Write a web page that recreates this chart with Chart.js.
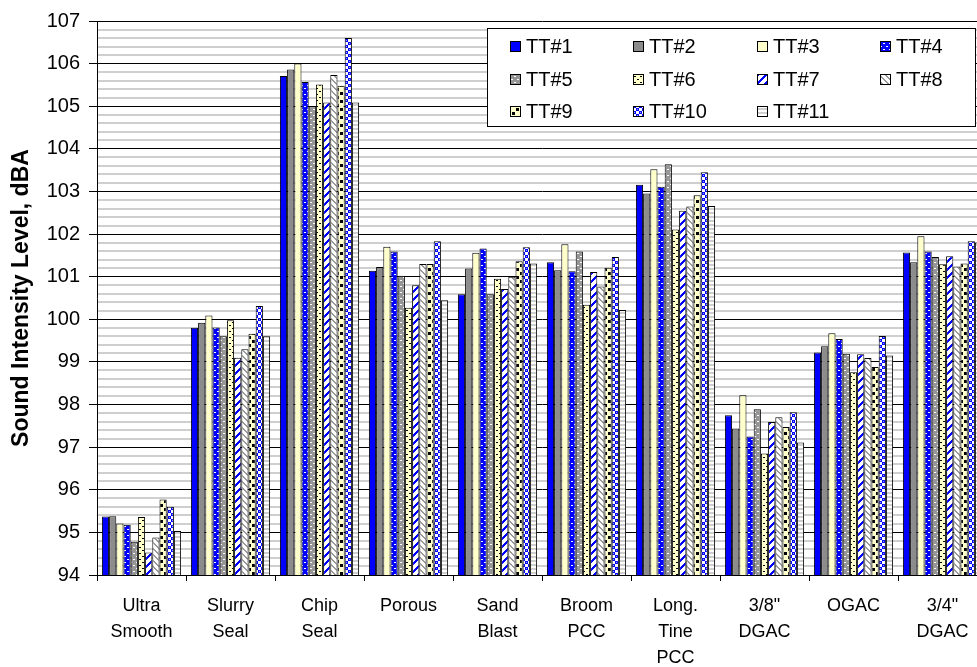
<!DOCTYPE html>
<html>
<head>
<meta charset="utf-8">
<title>Sound Intensity Level by Surface</title>
<script src="https://cdn.jsdelivr.net/npm/chart.js@4.4.0/dist/chart.umd.min.js"></script>
<style>
  html, body { margin: 0; padding: 0; background: #fff; overflow: hidden; }
  #wrap { width: 1000px; height: 667px; }
</style>
</head>
<body>
<div id="wrap"><canvas id="chart"></canvas></div>
<script>
// Surfaces (x categories)
var surfaces = [
    ['Ultra', 'Smooth'], ['Slurry', 'Seal'], ['Chip', 'Seal'], 'Porous', ['Sand', 'Blast'],
    ['Broom', 'PCC'], ['Long.', 'Tine', 'PCC'], ['3/8"', 'DGAC'], 'OGAC', ['3/4"', 'DGAC']
];

// one array per test tire, values in dBA
var tt1  = [95.37, 99.80, 105.71, 101.14, 100.59, 101.34, 103.16, 97.75, 99.22, 101.57];
var tt2  = [95.38, 99.92, 105.86, 101.23, 101.19, 101.15, 102.95, 97.44, 99.37, 101.34];
var tt3  = [95.21, 100.09, 106.00, 101.70, 101.56, 101.76, 103.52, 98.22, 99.67, 101.95];
var tt4  = [95.18, 99.81, 105.57, 101.59, 101.66, 101.13, 103.11, 97.25, 99.54, 101.59];
var tt5  = [94.78, 99.60, 105.00, 101.02, 100.59, 101.59, 103.64, 97.89, 99.19, 101.46];
var tt6  = [95.36, 99.98, 105.51, 100.27, 100.95, 100.34, 102.11, 96.85, 98.76, 101.29];
var tt7  = [94.53, 99.10, 105.09, 100.80, 100.71, 101.11, 102.55, 97.59, 99.18, 101.48];
var tt8  = [94.88, 99.30, 105.73, 101.30, 101.00, 100.77, 102.65, 97.70, 99.09, 101.24];
var tt9  = [95.77, 99.66, 105.48, 101.30, 101.36, 101.21, 102.91, 97.47, 98.88, 101.31];
var tt10 = [95.60, 100.31, 106.60, 101.83, 101.69, 101.46, 103.45, 97.82, 99.61, 101.83];
var tt11 = [95.03, 99.60, 105.09, 100.45, 101.31, 100.22, 102.66, 97.11, 99.15, 101.80];

var seriesNames = ['TT#1', 'TT#2', 'TT#3', 'TT#4', 'TT#5', 'TT#6', 'TT#7', 'TT#8', 'TT#9', 'TT#10', 'TT#11'];
var seriesData = [tt1, tt2, tt3, tt4, tt5, tt6, tt7, tt8, tt9, tt10, tt11];

var yMin = 94, yMax = 107;

// --- fill patterns -------------------------------------------------
function makePattern(w, h, draw) {
    var c = document.createElement('canvas');
    c.width = w; c.height = h;
    var g = c.getContext('2d');
    draw(g, w, h);
    return g.createPattern(c, 'repeat');
}

var BLUE = '#0000ff', GREY = '#969696', CREAM = '#ffffcc';

var fills = [
    BLUE,
    '#8c8c8c',
    CREAM,
    // blue, white dots
    makePattern(6, 6, function(g) {
        g.fillStyle = BLUE; g.fillRect(0, 0, 6, 6);
        g.fillStyle = '#fff'; g.fillRect(1, 1, 2, 1); g.fillRect(4, 4, 2, 1);
    }),
    // grey, white dots
    makePattern(6, 6, function(g) {
        g.fillStyle = GREY; g.fillRect(0, 0, 6, 6);
        g.fillStyle = '#fff'; g.fillRect(1, 1, 2, 1); g.fillRect(4, 4, 2, 1);
    }),
    // cream, black dashes
    makePattern(6, 6, function(g) {
        g.fillStyle = CREAM; g.fillRect(0, 0, 6, 6);
        g.fillStyle = '#000'; g.fillRect(1, 1, 2, 1); g.fillRect(4, 4, 2, 1);
    }),
    // white, wide blue upward diagonal
    makePattern(8, 8, function(g) {
        g.fillStyle = '#fff'; g.fillRect(0, 0, 8, 8);
        g.fillStyle = BLUE;
        for (var i = 0; i < 8; i++) {
            for (var k = 0; k < 3; k++) g.fillRect((7 - i + k) % 8, i, 1, 1);
        }
    }),
    // white, grey downward diagonal
    makePattern(6, 6, function(g) {
        g.fillStyle = '#fff'; g.fillRect(0, 0, 6, 6);
        g.fillStyle = '#999';
        for (var i = 0; i < 6; i++) {
            for (var k = 0; k < 2; k++) g.fillRect((i + k) % 6, i, 1, 1);
        }
    }),
    // cream, big black blocks
    makePattern(8, 8, function(g) {
        g.fillStyle = CREAM; g.fillRect(0, 0, 8, 8);
        g.fillStyle = '#000'; g.fillRect(0, 0, 3, 3); g.fillRect(4, 4, 3, 3);
    }),
    // white with blue checks
    makePattern(6, 6, function(g) {
        g.fillStyle = '#fff'; g.fillRect(0, 0, 6, 6);
        g.fillStyle = BLUE; g.fillRect(0, 0, 3, 3); g.fillRect(3, 3, 3, 3);
        g.fillStyle = '#9a9aff'; g.fillRect(1, 1, 1, 1); g.fillRect(4, 4, 1, 1);
    }),
    // white, grey horizontal bands
    makePattern(4, 4, function(g) {
        g.fillStyle = '#fff'; g.fillRect(0, 0, 4, 4);
        g.fillStyle = '#cfcfcf'; g.fillRect(0, 0, 4, 2);
    })
];

var datasets = seriesData.map(function(d, i) {
    return {
        label: seriesNames[i],
        data: d,
        backgroundColor: fills[i],
        borderColor: '#000',
        borderWidth: 1,
        borderSkipped: false
    };
});

function isMajor(v) { return Math.abs(v - Math.round(v)) < 1e-6; }

// legend box drawn over the plot, upper right
var boxLegend = {
    id: 'boxLegend',
    afterDraw: function(chart) {
        var ctx = chart.ctx;
        var x0 = 487, y0 = 28, w = 489, h = 99;
        ctx.save();
        ctx.fillStyle = '#fff';
        ctx.fillRect(x0, y0, w, h);
        ctx.strokeStyle = '#000';
        ctx.lineWidth = 1;
        ctx.strokeRect(x0 + 0.5, y0 + 0.5, w - 1, h - 1);
        ctx.font = '20px "Liberation Sans", Arial, sans-serif';
        ctx.textBaseline = 'middle';
        ctx.textAlign = 'left';
        var colX = [510, 633, 757, 880], rowY = [46, 79, 111];
        chart.data.datasets.forEach(function(ds, i) {
            var cx = colX[i % 4], cy = rowY[Math.floor(i / 4)];
            ctx.fillStyle = ds.backgroundColor;
            ctx.fillRect(cx, cy - 5, 11, 11);
            ctx.strokeStyle = '#000';
            ctx.strokeRect(cx + 0.5, cy - 4.5, 10, 10);
            ctx.fillStyle = '#000';
            ctx.fillText(ds.label, cx + 16, cy + 1);
        });
        ctx.restore();
    }
};

new Chart(document.getElementById('chart'), {
    type: 'bar',
    data: { labels: surfaces, datasets: datasets },
    options: {
        responsive: true,
        maintainAspectRatio: false,
        animation: false,
        layout: { padding: { top: 20, right: 13, left: 0, bottom: 0 } },
        datasets: { bar: { categoryPercentage: 0.89, barPercentage: 1.0 } },
        plugins: { legend: { display: false }, tooltip: { enabled: false } },
        scales: {
            x: {
                afterFit: function(s) { s.height = 92; },
                grid: { drawOnChartArea: false, offset: true, color: '#000', tickLength: 6 },
                border: { color: '#000', width: 1 },
                ticks: {
                    color: '#000',
                    padding: 12,
                    maxRotation: 0,
                    autoSkip: false,
                    font: { family: '"Liberation Sans Narrow", "Arial Narrow", "Liberation Sans", sans-serif', size: 18, lineHeight: 1.45 }
                }
            },
            y: {
                min: yMin,
                max: yMax,
                afterFit: function(s) { s.width = 97; },
                border: { color: '#000', width: 1 },
                grid: {
                    color: function(c) { return isMajor(c.tick.value) ? '#000' : '#cfcfcf'; },
                    lineWidth: function(c) { return isMajor(c.tick.value) ? 1 : 2; },
                    tickColor: function(c) { return isMajor(c.tick.value) ? '#000' : 'rgba(0,0,0,0)'; },
                    tickLength: 8
                },
                ticks: {
                    stepSize: 0.2,
                    maxTicksLimit: 200,
                    autoSkip: false,
                    padding: 9,
                    color: '#000',
                    font: { family: '"Liberation Sans", Arial, sans-serif', size: 20 },
                    callback: function(v) { return isMajor(v) ? String(Math.round(v)) : ''; }
                },
                title: {
                    display: true,
                    text: 'Sound Intensity Level, dBA',
                    color: '#000',
                    padding: { top: 8, bottom: 0 },
                    font: { family: '"Liberation Sans", Arial, sans-serif', size: 23, weight: 'bold' }
                }
            }
        }
    },
    plugins: [boxLegend]
});
</script>
</body>
</html>
